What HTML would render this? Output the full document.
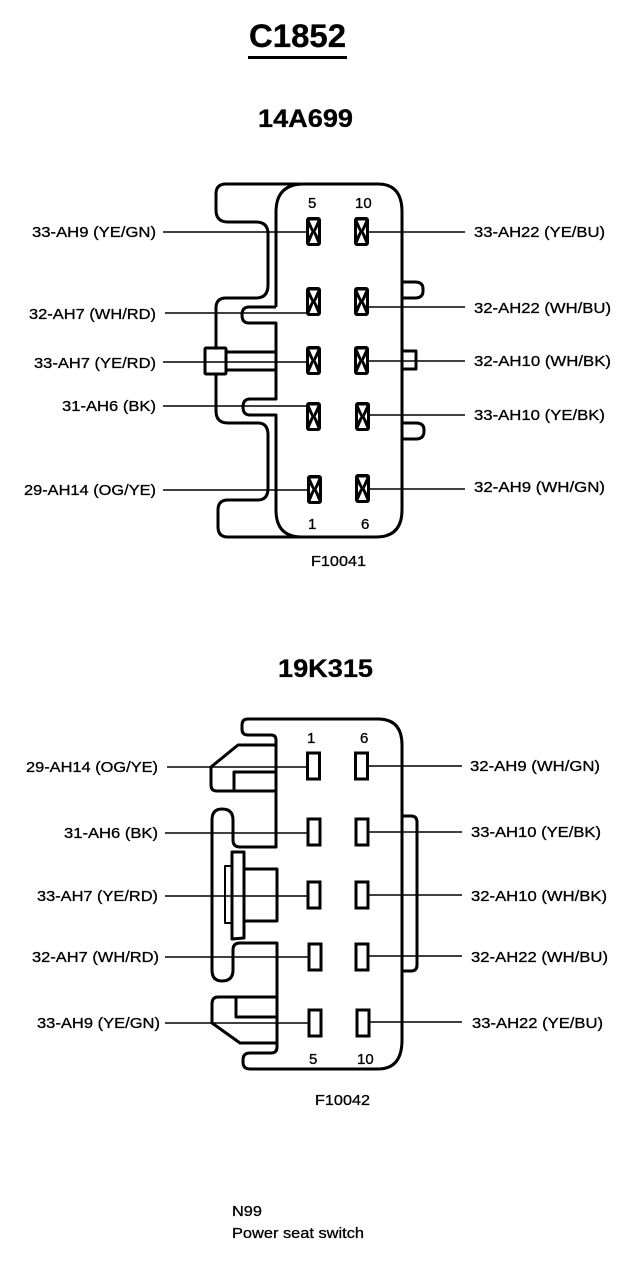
<!DOCTYPE html>
<html><head><meta charset="utf-8"><style>
html,body{margin:0;padding:0;background:#fff}
svg{display:block}
text{font-family:"Liberation Sans",sans-serif;fill:#000;font-size:15px;stroke:#000;stroke-width:.3}
.t{font-weight:bold;stroke-width:.3}
.s{fill:none;stroke:#000;stroke-width:3;stroke-linejoin:round}
.l{fill:none;stroke:#000;stroke-width:1.6}
.p{fill:#fff;stroke:#000;stroke-width:3}
.e{text-anchor:end}
</style></head><body>
<svg width="640" height="1266" viewBox="0 0 640 1266" xmlns="http://www.w3.org/2000/svg">
<defs>
<g id="x"><rect x="1.5" y="1.5" width="12" height="26" rx="1.5" fill="#000" stroke="#000" stroke-width="3"/><polygon points="3.5,3.5 11.500,3.5 7.5,12.500" fill="#fff"/><polygon points="3.5,26 11.500,26 7.5,16.500" fill="#fff"/><polygon points="3,10 3,19 5.500,14.500" fill="#fff"/><polygon points="12,10 12,19 9.500,14.500" fill="#fff"/></g>
</defs>
<text class="t" x="249" y="47" style="font-size:32px" textLength="97" lengthAdjust="spacingAndGlyphs">C1852</text>
<rect x="248" y="56" width="99" height="3"/>
<text class="t" x="258" y="127" style="font-size:25px" textLength="95" lengthAdjust="spacingAndGlyphs">14A699</text>
<text class="t" x="278" y="677" style="font-size:25px" textLength="95" lengthAdjust="spacingAndGlyphs">19K315</text>

<!-- top connector -->
<path class="s" d="M300 184H226Q216 184 216 194V210Q216 222 228 222H256Q268 222 268 234V285Q268 298 256 298H226Q216 298 216 308V347"/>
<path class="s" d="M276 307V212Q276 184 304 184H378Q402 184 402 212V510Q402 537 376 537H228Q218 537 218 527V510Q218 500 228 500H258Q268 500 268 488V435Q268 423 258 423H228Q216 423 216 411V375"/>
<path class="s" d="M276 307H249Q242 307 242 315Q242 323 249 323H276V399H250Q243 399 243 407Q243 415 250 415H276V510Q276 537 302 537"/>
<rect class="s" x="205" y="348" width="21" height="26" rx="1"/>
<path class="s" d="M226 352H276M226 370H276"/>
<path class="s" d="M402 282H415Q423 282 423 289V291Q423 298 415 298H402"/>
<path class="s" d="M402 351H416V369H402"/>
<path class="s" d="M402 423H416Q424 423 424 430V431Q424 439 416 439H402"/>
<use href="#x" x="306" y="217"/><use href="#x" x="354" y="217"/>
<use href="#x" x="306" y="287"/><use href="#x" x="354" y="287"/>
<use href="#x" x="306" y="346"/><use href="#x" x="354" y="346"/>
<use href="#x" x="306" y="402"/><use href="#x" x="355" y="402"/>
<use href="#x" x="307" y="475"/><use href="#x" x="355" y="474"/>
<path class="l" d="M163 232H306M165 313H306M163 362H306M163 406H306M163 490H307"/>
<path class="l" d="M369 232H465M369 307H465M369 361H465M369 415H465M369 489H465"/>
<text x="308" y="208">5</text><text x="355" y="208">10</text>
<text x="308" y="529">1</text><text x="361" y="529">6</text>
<text x="311" y="566" textLength="55" lengthAdjust="spacingAndGlyphs">F10041</text>
<text class="e" x="156" y="237" textLength="124" lengthAdjust="spacingAndGlyphs">33-AH9 (YE/GN)</text>
<text class="e" x="156" y="319" textLength="127" lengthAdjust="spacingAndGlyphs">32-AH7 (WH/RD)</text>
<text class="e" x="156" y="368" textLength="122" lengthAdjust="spacingAndGlyphs">33-AH7 (YE/RD)</text>
<text class="e" x="156" y="411" textLength="94" lengthAdjust="spacingAndGlyphs">31-AH6 (BK)</text>
<text class="e" x="156" y="495" textLength="132" lengthAdjust="spacingAndGlyphs">29-AH14 (OG/YE)</text>
<text x="474" y="237" textLength="131" lengthAdjust="spacingAndGlyphs">33-AH22 (YE/BU)</text>
<text x="474" y="313" textLength="137" lengthAdjust="spacingAndGlyphs">32-AH22 (WH/BU)</text>
<text x="474" y="366" textLength="137" lengthAdjust="spacingAndGlyphs">32-AH10 (WH/BK)</text>
<text x="474" y="420" textLength="131" lengthAdjust="spacingAndGlyphs">33-AH10 (YE/BK)</text>
<text x="474" y="492" textLength="131" lengthAdjust="spacingAndGlyphs">32-AH9 (WH/GN)</text>

<!-- bottom connector -->
<path class="s" d="M248 719H378Q402 719 402 745V1040Q402 1069 378 1069H250Q243 1069 243 1062V1060Q243 1053 250 1053H271Q277 1053 277 1047V943H240Q233 943 233 950V970Q233 981 222 981Q212 981 212 970V820Q212 809 222 809Q233 809 233 820V840Q233 847 240 847H276V740Q276 735 271 735H248Q242 735 242 729V725Q242 719 248 719Z"/>
<path class="s" d="M276 745H238L211 767V785Q211 791 217 791H276M234 791V772H276"/>
<path class="s" d="M277 997H218Q212 997 212 1004V1023L240 1043H277M236 998V1017H277"/>
<path class="s" d="M245 869H277V921H245"/>
<path class="s" style="stroke-width:2" d="M232 866H225V923H232"/>
<path class="s" d="M232 939V852H244V938Z"/>
<path class="s" d="M402 816H411Q417 816 417 822V965Q417 971 411 971H402"/>
<rect class="p" x="307.500" y="753" width="12" height="26"/><rect class="p" x="355.500" y="753" width="12" height="26"/>
<rect class="p" x="308" y="819" width="12" height="26"/><rect class="p" x="356" y="819" width="12" height="26"/>
<rect class="p" x="308" y="882" width="12" height="26"/><rect class="p" x="356" y="882" width="12" height="26"/>
<rect class="p" x="309" y="944" width="12" height="26"/><rect class="p" x="356" y="944" width="12" height="26"/>
<rect class="p" x="309" y="1010" width="12" height="26"/><rect class="p" x="357" y="1010" width="12" height="26"/>
<path class="l" d="M167 767H307M165 833H307M165 896H308M165 957H308M165 1023H308"/>
<path class="l" d="M368 766H462M369 832H462M369 895H462M369 956H462M370 1022H462"/>
<text x="307" y="743">1</text><text x="360" y="743">6</text>
<text x="309" y="1064">5</text><text x="357" y="1064">10</text>
<text x="315" y="1105" textLength="55" lengthAdjust="spacingAndGlyphs">F10042</text>
<text class="e" x="158" y="772" textLength="132" lengthAdjust="spacingAndGlyphs">29-AH14 (OG/YE)</text>
<text class="e" x="158" y="838" textLength="94" lengthAdjust="spacingAndGlyphs">31-AH6 (BK)</text>
<text class="e" x="158" y="901" textLength="121" lengthAdjust="spacingAndGlyphs">33-AH7 (YE/RD)</text>
<text class="e" x="159" y="962" textLength="127" lengthAdjust="spacingAndGlyphs">32-AH7 (WH/RD)</text>
<text class="e" x="160" y="1028" textLength="123" lengthAdjust="spacingAndGlyphs">33-AH9 (YE/GN)</text>
<text x="470" y="771" textLength="130" lengthAdjust="spacingAndGlyphs">32-AH9 (WH/GN)</text>
<text x="471" y="837" textLength="130" lengthAdjust="spacingAndGlyphs">33-AH10 (YE/BK)</text>
<text x="471" y="901" textLength="136" lengthAdjust="spacingAndGlyphs">32-AH10 (WH/BK)</text>
<text x="471" y="962" textLength="137" lengthAdjust="spacingAndGlyphs">32-AH22 (WH/BU)</text>
<text x="472" y="1028" textLength="131" lengthAdjust="spacingAndGlyphs">33-AH22 (YE/BU)</text>
<text x="232" y="1216" textLength="30" lengthAdjust="spacingAndGlyphs">N99</text>
<text x="232" y="1238" textLength="132" lengthAdjust="spacingAndGlyphs">Power seat switch</text>
</svg>
</body></html>
